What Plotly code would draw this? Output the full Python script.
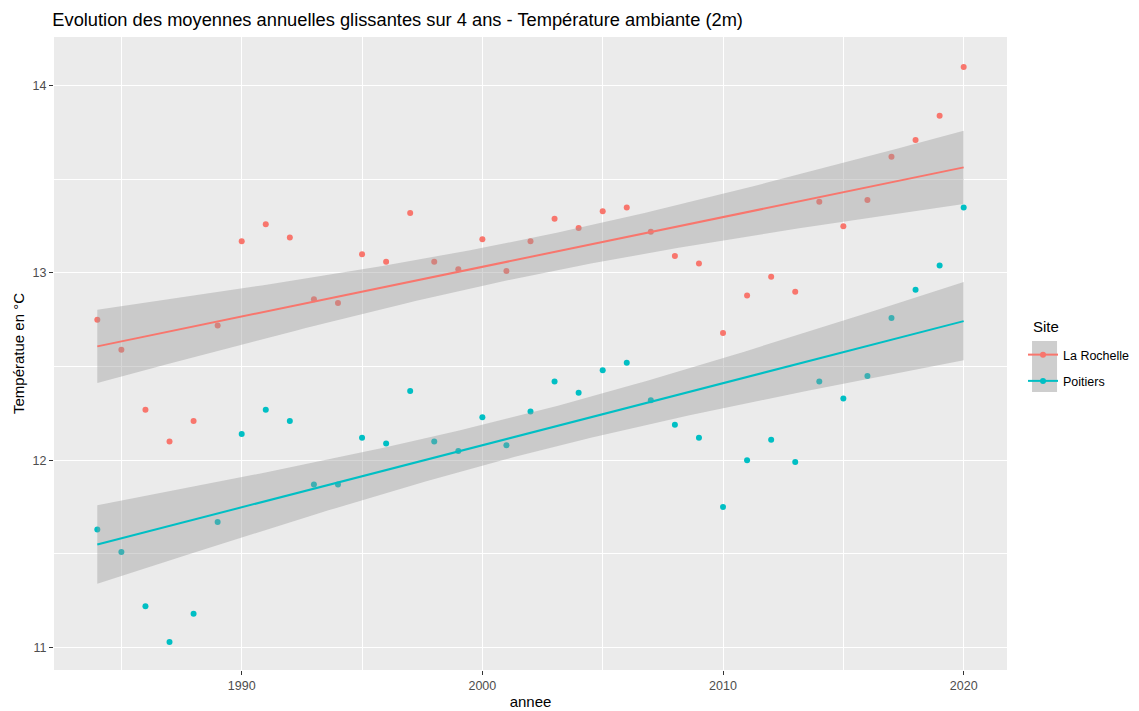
import numpy as np
import plotly.graph_objects as go

years = list(range(1984, 2021))

la_rochelle = [12.75, 12.59, 12.27, 12.10, 12.21, 12.72, 13.17, 13.26, 13.19, 12.86,
               12.84, 13.10, 13.06, 13.32, 13.06, 13.02, 13.18, 13.01, 13.17, 13.29,
               13.24, 13.33, 13.35, 13.22, 13.09, 13.05, 12.68, 12.88, 12.98, 12.90,
               13.38, 13.25, 13.39, 13.62, 13.71, 13.84, 14.10]

poitiers = [11.63, 11.51, 11.22, 11.03, 11.18, 11.67, 12.14, 12.27, 12.21, 11.87,
            11.87, 12.12, 12.09, 12.37, 12.10, 12.05, 12.23, 12.08, 12.26, 12.42,
            12.36, 12.48, 12.52, 12.32, 12.19, 12.12, 11.75, 12.00, 12.11, 11.99,
            12.42, 12.33, 12.45, 12.76, 12.91, 13.04, 13.35]

sites = ["La Rochelle", "Poitiers"]
colors = {"La Rochelle": "#F8766D", "Poitiers": "#00BFC4"}
series = {"La Rochelle": la_rochelle, "Poitiers": poitiers}

x_ticks = [1990, 2000, 2010, 2020]
x_minor = [1985, 1995, 2005, 2015]
y_ticks = [11, 12, 13, 14]
y_minor = [11.5, 12.5, 13.5]

T975 = 2.0301  # t quantile, df = 35


def lm_fit(x, y, n_eval=80):
    x = np.asarray(x, float)
    y = np.asarray(y, float)
    n = len(x)
    xm = x.mean()
    sxx = ((x - xm) ** 2).sum()
    b = ((x - xm) * (y - y.mean())).sum() / sxx
    a = y.mean() - b * xm
    resid = y - (a + b * x)
    s = np.sqrt((resid ** 2).sum() / (n - 2))
    xs = np.linspace(x.min(), x.max(), n_eval)
    fit = a + b * xs
    se = s * np.sqrt(1.0 / n + (xs - xm) ** 2 / sxx)
    return xs, fit, fit - T975 * se, fit + T975 * se


fig = go.Figure()

for s in sites:
    fig.add_trace(go.Scatter(
        x=years, y=series[s], mode="markers",
        marker=dict(color=colors[s], size=6),
        showlegend=False, hoverinfo="x+y", name=s))

for s in sites:
    xs, fit, lo, hi = lm_fit(years, series[s])
    fig.add_trace(go.Scatter(
        x=np.concatenate([xs, xs[::-1]]), y=np.concatenate([hi, lo[::-1]]),
        fill="toself", fillcolor="rgba(153,153,153,0.4)", line=dict(width=0),
        mode="lines", showlegend=False, hoverinfo="skip"))
    fig.add_trace(go.Scatter(
        x=xs, y=fit, mode="lines", name=s,
        line=dict(color=colors[s], width=2),
        legendgroup=s, showlegend=False, hoverinfo="skip"))
    # legend entry
    fig.add_trace(go.Scatter(
        x=[None], y=[None], mode="lines+markers", name=s,
        line=dict(color=colors[s], width=2),
        marker=dict(color=colors[s], size=6),
        legendgroup=s, showlegend=True))

OFF = 8  # default page body margin
W, H = 1139, 711 - OFF
EW = W - OFF  # effective rendered width
L, R, T, B = 54 - OFF, 133, 37 - OFF, 41
pw, ph = EW - L - R, H - T - B


def px_x(p):  # page pixel -> paper fraction
    return (p - OFF - L) / pw


def px_y(p):
    return (H - B - (p - OFF)) / ph


axis_common = dict(
    showgrid=True, gridcolor="white", gridwidth=1.3,
    zeroline=False, showline=False, automargin=False,
    ticks="outside", ticklen=4, tickwidth=1, tickcolor="#333333",
    tickfont=dict(family="Liberation Sans, Arial, sans-serif", size=12.5, color="#4D4D4D"),
)

fig.update_layout(
    width=W, height=H,
    margin=dict(l=L, r=R, t=T, b=B),
    paper_bgcolor="white", plot_bgcolor="#EBEBEB",
    font=dict(family="Liberation Sans, Arial, sans-serif", color="black"),
    title=dict(text="Evolution des moyennes annuelles glissantes sur 4 ans - Température ambiante (2m)",
               x=(52 - OFF) / EW, xanchor="left", y=1 - (20 - OFF) / H, yanchor="middle",
               font=dict(size=18.3, color="black")),
    xaxis=dict(range=[1982.2, 2021.8], tickvals=x_ticks,
               minor=dict(tickvals=x_minor, showgrid=True, gridcolor="white", gridwidth=0.6, ticks=""),
               title=dict(text="annee", font=dict(size=15), standoff=4),
               **axis_common),
    yaxis=dict(range=[10.88, 14.26], tickvals=y_ticks,
               minor=dict(tickvals=y_minor, showgrid=True, gridcolor="white", gridwidth=0.6, ticks=""),
               title=dict(text="Températue en °C", font=dict(size=15), standoff=4),
               **axis_common),
    legend=dict(x=px_x(1022), y=px_y(368), xanchor="left", yanchor="middle",
                bgcolor="rgba(0,0,0,0)", tracegroupgap=7,
                font=dict(size=12.5)),
    annotations=[dict(text="Site", xref="paper", yref="paper",
                      x=px_x(1030), y=px_y(326), xanchor="left", yanchor="middle",
                      showarrow=False, font=dict(size=15, color="black"))],
    shapes=[dict(type="rect", xref="paper", yref="paper",
                 x0=px_x(1031), x1=px_x(1056), y0=px_y(392), y1=px_y(341),
                 fillcolor="#CECECE", line=dict(width=0), layer="below")],
)

fig.write_html("out.html")
